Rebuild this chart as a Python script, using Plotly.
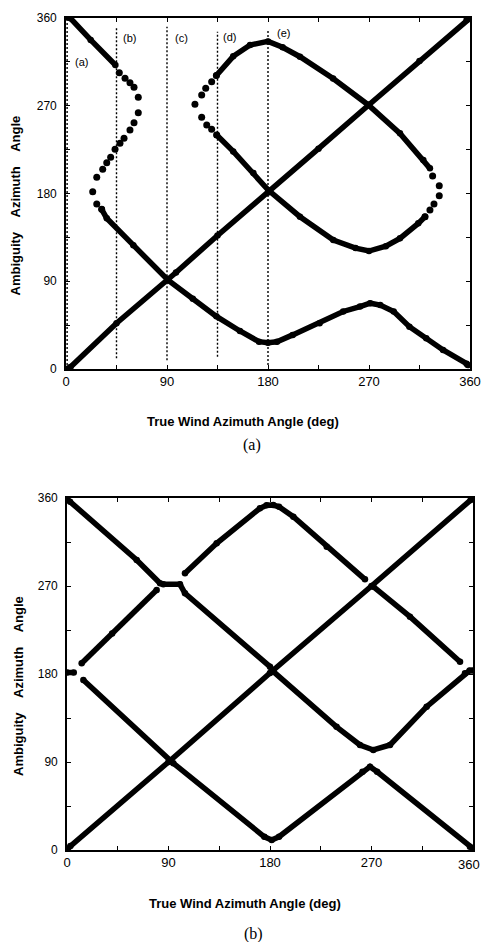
import plotly.graph_objects as go

W, H = 482, 942

# ---------------- Panel (a) data ----------------
a_diag_x = [0, 4, 45, 91, 98, 135, 180, 225, 270, 315, 357, 360]
a_diag_y = [0, 2, 47, 91, 99, 137, 181, 226, 271, 316, 358, 360]

a_upper_x = [0, 4, 22, 44]
a_upper_y = [361, 359.7, 337.5, 311.8]

a_fold1_x = [47.5, 52.6, 57.0, 60.6, 64.4, 64.4, 60.6, 57.0, 51.7, 48.1, 43.7, 39.8, 36.3, 32.7, 27.4, 23.8, 27.4, 31.8]
a_fold1_y = [303.9, 298.1, 293.6, 288.9, 278.7, 262.9, 252.6, 245.1, 236.6, 231.5, 225.3, 217.1, 211.6, 204.8, 196.6, 181.8, 169.2, 163.8]

a_lower_x = [31.8, 36.3, 60, 91, 113, 134, 155, 172, 180, 188, 202, 226, 247, 262, 271, 280, 292, 306, 321, 336, 357, 358]
a_lower_y = [163.8, 154.6, 127, 91, 72, 54, 39, 28, 27, 28, 35, 47, 59, 64, 67.5, 65.6, 59, 43.4, 31.5, 19.5, 5.5, 4]

a_loopfold_l_x = [134, 129.8, 124.5, 120.9, 114.9, 120.9, 125.4, 129.8, 134.3]
a_loopfold_l_y = [301, 294.7, 287.9, 281, 271.5, 258.1, 250.2, 245.8, 240]

a_loop_upper_x = [134, 149, 164, 180, 193, 208.5, 238, 269.4, 297.6, 318.4, 324.3]
a_loop_upper_y = [301, 320.7, 332.3, 336, 330, 320.3, 298, 270.8, 241.7, 214.4, 205.8]

a_loopfold_r_x = [326.7, 332.6, 332.6, 327.9, 324.3, 319.9]
a_loopfold_r_y = [197.9, 188, 177.7, 169.2, 163.1, 156.2]

a_loop_lower_x = [319.9, 313.9, 297.6, 285, 270, 258, 238.2, 208.5, 180.2, 167, 149, 134.3]
a_loop_lower_y = [156.2, 149.4, 134, 126, 121, 124, 132.3, 156.2, 183.6, 201, 223.2, 240]

a_vline_x = [1, 45, 90, 135, 180]
a_vline_bottom = [0, 11, 9, 12.6, 4]
a_vline_top = [360, 349.6, 351, 346, 348]
a_vlabel_text = ["(a)", "(b)", "(c)", "(d)", "(e)"]
a_vlabel_x = [14, 57, 103, 146, 194]
a_vlabel_y = [315, 339.5, 339.5, 341, 344.6]

# ---------------- Panel (b) data ----------------
b_diag_x = [0, 3, 90, 180, 270, 358, 360]
b_diag_y = [0, 4, 90, 181, 270, 358, 360]

b_A_x = [0, 2.7, 61.8, 82.5, 85.4, 100.2, 104.6, 180, 183, 239, 259.8, 271.6, 286.4, 318.9, 352.9, 357, 360]
b_A_y = [359, 356.2, 296.6, 272.8, 271.7, 271.7, 262.5, 187.5, 182.4, 126, 107.4, 102.3, 107.4, 146.6, 180.7, 183.5, 183.5]

b_B0_x = [0, 6]
b_B0_y = [181.5, 181.5]

b_B_x = [14.5, 94.3, 175, 181.5, 188, 262, 268.7, 275, 357.3, 360]
b_B_y = [173.9, 88.7, 13.5, 10.2, 13.5, 80, 85.2, 80, 3.4, 1.5]

b_C1_x = [13, 40, 79.5]
b_C1_y = [191, 221.5, 265.9]

b_C2_x = [104.6, 132.7, 171.1, 177, 182.9, 188, 200.7, 230.3, 264.2]
b_C2_y = [283, 313.7, 349.5, 352.5, 352.8, 351, 340.9, 310.2, 276.8]

b_C3_x = [271.6, 304.1, 348.5]
b_C3_y = [269.3, 238.6, 192.6]

tick_vals = [0, 45, 90, 135, 180, 225, 270, 315, 360]
tick_text = ["0", "", "90", "", "180", "", "270", "", "360"]
b_tick_text = ["0", "", "90", "", "180", "", "270", "", ""]
b_last_label = "360"

SANS = "Liberation Sans"
SERIF = "Liberation Serif"

fig = go.Figure()


def add_curve(xs, ys, xa, ya):
    fig.add_trace(go.Scatter(
        x=xs, y=ys, mode="lines+markers", xaxis=xa, yaxis=ya,
        line=dict(color="black", width=5.5),
        marker=dict(color="black", size=6.5),
        showlegend=False, hoverinfo="skip"))


def add_dots(xs, ys, xa, ya):
    fig.add_trace(go.Scatter(
        x=xs, y=ys, mode="markers", xaxis=xa, yaxis=ya,
        marker=dict(color="black", size=7),
        showlegend=False, hoverinfo="skip"))


# vertical dotted lines (panel a)
for vx, vb, vt in zip(a_vline_x, a_vline_bottom, a_vline_top):
    fig.add_trace(go.Scatter(
        x=[vx, vx], y=[vb, vt], mode="lines", xaxis="x", yaxis="y",
        line=dict(color="black", width=1.4, dash="2px,2px"),
        showlegend=False, hoverinfo="skip"))

add_curve(a_diag_x, a_diag_y, "x", "y")
add_curve(a_upper_x, a_upper_y, "x", "y")
add_dots(a_fold1_x, a_fold1_y, "x", "y")
add_curve(a_lower_x, a_lower_y, "x", "y")
add_dots(a_loopfold_l_x, a_loopfold_l_y, "x", "y")
add_curve(a_loop_upper_x, a_loop_upper_y, "x", "y")
add_dots(a_loopfold_r_x, a_loopfold_r_y, "x", "y")
add_curve(a_loop_lower_x, a_loop_lower_y, "x", "y")

add_curve(b_diag_x, b_diag_y, "x2", "y2")
add_curve(b_A_x, b_A_y, "x2", "y2")
add_curve(b_B0_x, b_B0_y, "x2", "y2")
add_curve(b_B_x, b_B_y, "x2", "y2")
add_curve(b_C1_x, b_C1_y, "x2", "y2")
add_curve(b_C2_x, b_C2_y, "x2", "y2")
add_curve(b_C3_x, b_C3_y, "x2", "y2")


def axis_common(font_size, texts):
    return dict(
        range=[0, 360], tickmode="array", tickvals=tick_vals, ticktext=texts,
        ticks="inside", ticklen=4, tickwidth=1, tickcolor="black",
        showline=True, linecolor="black", linewidth=1.6, mirror="ticks",
        showgrid=False, zeroline=False, automargin=False, fixedrange=True,
        tickfont=dict(family=SANS, size=font_size, color="black"))


def px_x(p):
    return p / W


def px_y(p):
    return 1 - p / H


fig.update_layout(
    width=W, height=H,
    margin=dict(l=0, r=0, t=0, b=0),
    paper_bgcolor="white", plot_bgcolor="white",
    xaxis=dict(domain=[px_x(66), px_x(470)], anchor="y", **axis_common(13, tick_text)),
    yaxis=dict(domain=[px_y(369), px_y(18)], anchor="x", ticklabelstandoff=5, **axis_common(12, tick_text)),
    xaxis2=dict(domain=[px_x(67), px_x(473)], anchor="y2", **axis_common(13, b_tick_text)),
    yaxis2=dict(domain=[px_y(850), px_y(498)], anchor="x2", ticklabelstandoff=5, **axis_common(12, tick_text)),
)

ann = []
for t, lx, ly in zip(a_vlabel_text, a_vlabel_x, a_vlabel_y):
    ann.append(dict(text=t, x=lx, y=ly, xref="x", yref="y", showarrow=False,
                    xanchor="center", yanchor="middle",
                    font=dict(family=SANS, size=11, color="black")))

# last tick label of panel (b), which sits at the right edge of the page
ann.append(dict(text=b_last_label, x=px_x(482), y=px_y(864), xref="paper", yref="paper",
                showarrow=False, xanchor="right", yanchor="middle",
                font=dict(family=SANS, size=13, color="black")))

sp = "\u00a0" * 4
ytitle = "Ambiguity" + sp + "Azimuth" + sp + "Angle"
xtitle = "True Wind Azimuth Angle (deg)"
for (tx, ty) in [(15, 205.5), (18, 686)]:
    ann.append(dict(text="<b>" + ytitle + "</b>", x=px_x(tx), y=px_y(ty), xref="paper", yref="paper",
                    showarrow=False, textangle=-90, xanchor="center", yanchor="middle",
                    font=dict(family=SANS, size=13, color="black")))
for (tx, ty) in [(243, 421.7), (245, 903)]:
    ann.append(dict(text="<b>" + xtitle + "</b>", x=px_x(tx), y=px_y(ty), xref="paper", yref="paper",
                    showarrow=False, xanchor="center", yanchor="middle",
                    font=dict(family=SANS, size=13, color="black")))
for (t, tx, ty) in [("(a)", 252, 445), ("(b)", 253, 934)]:
    ann.append(dict(text=t, x=px_x(tx), y=px_y(ty), xref="paper", yref="paper",
                    showarrow=False, xanchor="center", yanchor="middle",
                    font=dict(family=SERIF, size=16, color="black")))

fig.update_layout(annotations=ann)

fig.write_html(
    "out.html",
    config={"displayModeBar": False},
    post_script="document.body.style.margin='0';document.body.style.overflow='hidden';",
)
